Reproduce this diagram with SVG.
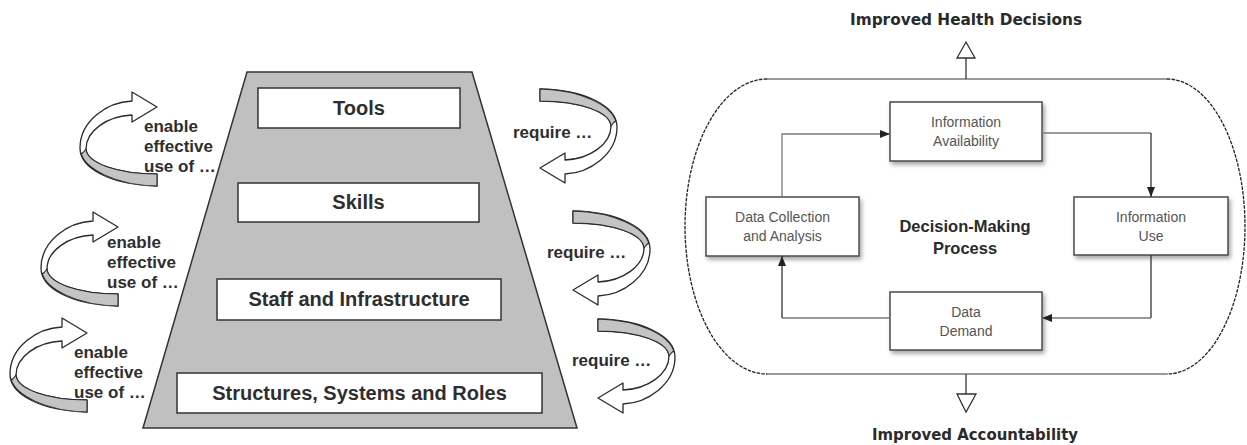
<svg xmlns="http://www.w3.org/2000/svg" width="1247" height="445" viewBox="0 0 1247 445">
<style>
  .lbl { font-family: "Liberation Sans", Arial, sans-serif; font-weight: bold; fill: #2e2e2e; }
  .box { font-size: 20px; text-anchor: middle; }
  .side { font-size: 17px; }
  .lvl { fill: #ffffff; stroke: #333333; stroke-width: 1.5; }
  .rib { fill: #ffffff; stroke: #2a2a2a; stroke-width: 1.3; stroke-linejoin: round; }
  .ribg { fill: #c4c4c4; stroke: #2a2a2a; stroke-width: 1.1; stroke-linejoin: round; }
  .pbox { fill: #ffffff; stroke: #4a4a4a; stroke-width: 1.5; filter: url(#shadow); }
  .ptxt { font-family: "Liberation Sans", Arial, sans-serif; font-size: 14px; fill: #555555; text-anchor: middle; }
  .title { font-family: "DejaVu Sans", "Liberation Sans", sans-serif; font-weight: bold; font-size: 16px; fill: #2a2a2a; text-anchor: middle; }
  .conn { fill: none; stroke: #7a7a7a; stroke-width: 1.3; }
  .connd { fill: none; stroke: #333333; stroke-width: 1.3; }
  .hollow { fill: #ffffff; stroke: #333333; stroke-width: 1.3; }
</style>
<defs>
  <filter id="shadow" x="-10%" y="-20%" width="125%" height="150%">
    <feDropShadow dx="2" dy="3" stdDeviation="2" flood-color="#000000" flood-opacity="0.35"/>
  </filter>
  <marker id="ah" viewBox="0 0 10 8" refX="10" refY="4" markerWidth="10" markerHeight="8" markerUnits="userSpaceOnUse" orient="auto">
    <path d="M0,0 L10,4 L0,8 Z" fill="#222222"/>
  </marker>
  <g id="curl">
    <path class="rib" d="M -25,-6 L -25,-15 L 0,0 L -25,15 L -25,8 C -50,9 -71,24 -71,42 C -70,56 -40,67 0,67 L 0,79 C -45,78 -77,62 -77,41 C -77,14 -50,-5 -25,-6 Z"/>
    <path class="ribg" d="M 0,67 C -40,67 -70,56 -71,42 C -74,46 -76,48 -76,46 C -72,62 -42,78 0,79 Z"/>
  </g>
</defs>

<g id="pyramid">
  <polygon points="247,72 472,72 577,428 143,428" fill="#c0c0c0" stroke="#333333" stroke-width="1.5"/>
</g>
<g id="tools">
  <rect class="lvl" x="258" y="88" width="202" height="40"/>
  <text class="lbl box" x="359" y="115">Tools</text>
</g>
<g id="skills">
  <rect class="lvl" x="238" y="183" width="241" height="39"/>
  <text class="lbl box" x="358.5" y="209">Skills</text>
</g>
<g id="staff">
  <rect class="lvl" x="217" y="279" width="284" height="41"/>
  <text class="lbl box" x="359" y="306">Staff and Infrastructure</text>
</g>
<g id="structures">
  <rect class="lvl" x="177" y="373" width="365" height="40"/>
  <text class="lbl box" x="359.5" y="400">Structures, Systems and Roles</text>
</g>

<g id="enable1">
  <use href="#curl" transform="translate(157,107)"/>
  <text class="lbl side" x="144" y="132">enable</text>
  <text class="lbl side" x="144" y="152">effective</text>
  <text class="lbl side" x="144" y="172">use of …</text>
</g>
<g id="enable2">
  <use href="#curl" transform="translate(118,227)"/>
  <text class="lbl side" x="107" y="248">enable</text>
  <text class="lbl side" x="107" y="268">effective</text>
  <text class="lbl side" x="107" y="288">use of …</text>
</g>
<g id="enable3">
  <use href="#curl" transform="translate(87,333)"/>
  <text class="lbl side" x="74" y="358">enable</text>
  <text class="lbl side" x="74" y="378">effective</text>
  <text class="lbl side" x="74" y="398">use of …</text>
</g>
<g id="require1">
  <use href="#curl" transform="translate(540,168) rotate(180)"/>
  <text class="lbl side" x="513" y="138">require …</text>
</g>
<g id="require2">
  <use href="#curl" transform="translate(573,290) rotate(180)"/>
  <text class="lbl side" x="547" y="258">require …</text>
</g>
<g id="require3">
  <use href="#curl" transform="translate(598,398) rotate(180)"/>
  <text class="lbl side" x="572" y="366">require …</text>
</g>

<g id="process-boundary">
  <line x1="767" y1="79" x2="1167" y2="79" stroke="#9a9a9a" stroke-width="2"/>
  <line x1="767" y1="374" x2="1167" y2="374" stroke="#9a9a9a" stroke-width="2"/>
  <path d="M 767,79 A 82,147.5 0 0 0 767,374" fill="none" stroke="#222222" stroke-width="1.3" stroke-dasharray="3.5,1.2"/>
  <path d="M 1167,79 A 78,147.5 0 0 1 1167,374" fill="none" stroke="#222222" stroke-width="1.3" stroke-dasharray="3.5,1.2"/>
  <text class="title" x="965" y="232" font-family="Liberation Sans, Arial, sans-serif" style="font-family:'Liberation Sans',Arial,sans-serif;font-size:16.5px">Decision-Making</text>
  <text class="title" x="965" y="254" style="font-family:'Liberation Sans',Arial,sans-serif;font-size:16.5px">Process</text>
</g>

<g id="info-availability">
  <rect class="pbox" x="890" y="102" width="152" height="59"/>
  <text class="ptxt" x="966" y="127">Information</text>
  <text class="ptxt" x="966" y="146">Availability</text>
</g>
<g id="data-collection">
  <rect class="pbox" x="706" y="197" width="153" height="59"/>
  <text class="ptxt" x="782.5" y="222">Data Collection</text>
  <text class="ptxt" x="782.5" y="241">and Analysis</text>
</g>
<g id="info-use">
  <rect class="pbox" x="1074" y="197" width="154" height="58"/>
  <text class="ptxt" x="1151" y="222">Information</text>
  <text class="ptxt" x="1151" y="241">Use</text>
</g>
<g id="data-demand">
  <rect class="pbox" x="890" y="292" width="152" height="58"/>
  <text class="ptxt" x="966" y="317">Data</text>
  <text class="ptxt" x="966" y="336">Demand</text>
</g>

<g id="health-decisions">
  <text class="title" x="966" y="25" textLength="232" lengthAdjust="spacingAndGlyphs">Improved Health Decisions</text>
</g>
<g id="accountability">
  <text class="title" x="975" y="440" textLength="206" lengthAdjust="spacingAndGlyphs">Improved Accountability</text>
</g>

<g id="connectors">
  <path class="conn" d="M 782,197 V 134 H 890" marker-end="url(#ah)"/>
  <path class="conn" d="M 1042,133 H 1151"/>
  <path class="connd" d="M 1151,133 V 197" marker-end="url(#ah)"/>
  <path class="connd" d="M 1151,255 V 318"/>
  <path class="conn" d="M 1151,318 H 1042" marker-end="url(#ah)"/>
  <path class="conn" d="M 890,318 H 782"/>
  <path class="connd" d="M 782,318 V 256" marker-end="url(#ah)"/>
  <line class="connd" x1="966" y1="79" x2="966" y2="58"/>
  <polygon class="hollow" points="957,58 975,58 966,42"/>
  <line class="connd" x1="966" y1="374" x2="966" y2="394"/>
  <polygon class="hollow" points="957,394 976,394 966,412"/>
</g>
</svg>
